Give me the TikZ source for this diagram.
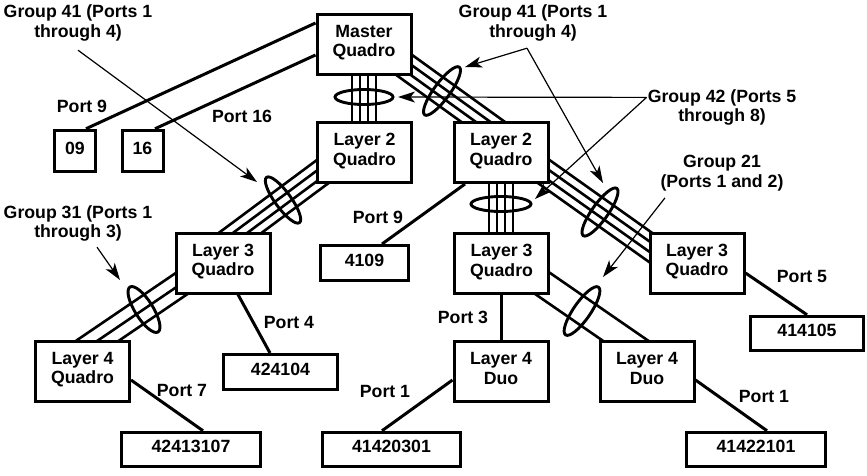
\documentclass[tikz,border=0pt]{standalone}
\usepackage{fontspec}
\setmainfont{Liberation Sans}
\usetikzlibrary{calc,arrows.meta,backgrounds}
\newcommand\lowpad{\rule[-6pt]{0pt}{6pt}}
\begin{document}
\begin{tikzpicture}[x=1pt,y=-1pt,
  every node/.style={font=\bfseries\fontsize{17.7pt}{19.6pt}\selectfont, inner sep=0pt},
  box/.style={draw, line width=3pt, fill=white, align=center, minimum width=94pt, minimum height=60pt},
  leaf/.style={draw, line width=3pt, fill=white, minimum height=35pt},
  lbl/.style={align=center},
  link/.style={line width=3pt},
  bundle/.style={line width=2.6pt},
  ring/.style={line width=2.9pt},
  pointer/.style={line width=1.2pt, -{Stealth[length=17pt,width=11pt,inset=4.5pt]}},
]
\useasboundingbox (0,0) rectangle (867,475);

% boxes
\node[box] (m) at (364,44) {Master\\Quadro\lowpad};
\node[box] (l2l) at (364.5,152.5) {Layer 2\\Quadro\lowpad};
\node[box] (l2r) at (501,152.5) {Layer 2\\Quadro\lowpad};
\node[box] (l3l) at (223,263) {Layer 3\\Quadro\lowpad};
\node[box] (l3m) at (501.5,263.5) {Layer 3\\Quadro\lowpad};
\node[box] (l3r) at (697,263) {Layer 3\\Quadro\lowpad};
\node[box] (l4q) at (82.5,371) {Layer 4\\Quadro\lowpad};
\node[box] (l4d1) at (501,371.5) {Layer 4\\Duo\lowpad};
\node[box] (l4d2) at (647,371.5) {Layer 4\\Duo\lowpad};

\node[leaf, minimum width=41.5pt, minimum height=41.5pt] (b09) at (75,151) {09\lowpad};
\node[leaf, minimum width=41pt, minimum height=41.5pt] (b16) at (142.5,151) {16\lowpad};
\node[leaf, minimum width=88.5pt] (b4109) at (364.5,263) {4109\lowpad};
\node[leaf, minimum width=114.5pt] (b424104) at (280.5,372) {424104\lowpad};
\node[leaf, minimum width=139.5pt, minimum height=34.5pt] (b42413107) at (191,449.5) {42413107\lowpad};
\node[leaf, minimum width=138.5pt, minimum height=34.5pt] (b41420301) at (391.5,449.5) {41420301\lowpad};
\node[leaf, minimum width=139.5pt, minimum height=34.5pt] (b41422101) at (756,449.5) {41422101\lowpad};
\node[leaf, minimum width=113.5pt, minimum height=34.5pt] (b414105) at (807,333.5) {414105\lowpad};

% labels
\node[lbl] (t41a) at (78,23.1) {Group 41 (Ports 1\\through 4)};
\node[lbl] (t41b) at (533,23.1) {Group 41 (Ports 1\\through 4)};
\node[lbl] (t42) at (722,107.4) {Group 42 (Ports 5\\through 8)};
\node[lbl] (t21) at (722,173.3) {Group 21\\(Ports 1 and 2)};
\node[lbl] (t31) at (78,223.4) {Group 31 (Ports 1\\through 3)};

\node[anchor=base] (p9a) at (82,112) {Port 9};
\node[anchor=base] (p16) at (242,122) {Port 16};
\node[anchor=base] (p9b) at (378,223) {Port 9};
\node[anchor=base] (p3) at (463,323) {Port 3};
\node[anchor=base] (p4) at (289,328) {Port 4};
\node[anchor=base] (p5) at (802,282) {Port 5};
\node[anchor=base] (p7) at (182,396) {Port 7};
\node[anchor=base] (p1a) at (385,397) {Port 1};
\node[anchor=base] (p1b) at (764,402) {Port 1};

% connectors behind the boxes
\begin{pgfonlayer}{background}
\draw[link] ([xshift=11pt]b09.north) -- ([yshift=21pt]m.west);
\draw[link] ([xshift=12.5pt]b16.north) -- ([yshift=-11pt]m.west);
\draw[link] ([xshift=-36pt]l2r.south) -- ([xshift=17.5pt]b4109.north);
\draw[link] ([xshift=15pt]l3l.south) -- ([xshift=-10.5pt]b424104.north);
\draw[link] ([yshift=-10pt]l3r.east) -- (b414105.north);
\draw[link] ([yshift=-9pt]l4q.east) -- ([xshift=12pt]b42413107.north);
\draw[link] ([yshift=-8.5pt]l4d1.west) -- ([xshift=-9.5pt]b41420301.north);
\draw[link] ([yshift=-8.5pt]l4d2.east) -- ([xshift=11pt]b41422101.north);
\draw[link] (l3m.south) -- (l3m.south |- l4d1.north);

% vertical bundles
\foreach \o in {-12,-4,4,12} {
  \draw[bundle] ([xshift=\o pt]m.south) -- ([xshift=\o pt]m.south |- l2l.north);
  \draw[bundle] ([xshift=\o pt]l2r.south) -- ([xshift=\o pt]l2r.south |- l3m.north);
}
% diagonal bundles
\coordinate (b3p) at ([yshift=8pt]m.center);
\coordinate (b3q) at ([xshift=19pt,yshift=4pt]l2r.center);
\coordinate (b4p) at ([yshift=12pt]l2l.center);
\coordinate (b4q) at ([xshift=-18pt,yshift=4pt]l3l.center);
\coordinate (b5p) at ([yshift=7.6pt]l3l.center);
\coordinate (b5q) at ([xshift=-22.5pt,yshift=4.8pt]l4q.center);
\coordinate (b6p) at ([xshift=29pt,yshift=-9.3pt]l2r.center);
\coordinate (b6q) at ([xshift=-27pt,yshift=1.8pt]l3r.center);
\coordinate (b7p) at ([xshift=28.5pt,yshift=-11.3pt]l3m.center);
\coordinate (b7q) at ([xshift=13pt,yshift=7pt]l4d2.center);
\foreach \o in {-12.75,-4.25,4.25,12.75} {
  \draw[bundle] ($(b3p)!\o pt!90:(b3q)$) -- ($(b3q)!\o pt!-90:(b3p)$);
  \draw[bundle] ($(b4p)!\o pt!90:(b4q)$) -- ($(b4q)!\o pt!-90:(b4p)$);
  \draw[bundle] ($(b6p)!\o pt!90:(b6q)$) -- ($(b6q)!\o pt!-90:(b6p)$);
}
\foreach \o in {-12,0,12} {
  \draw[bundle] ($(b5p)!\o pt!90:(b5q)$) -- ($(b5q)!\o pt!-90:(b5p)$);
}
\foreach \o in {-12.9,12.9} {
  \draw[bundle] ($(b7p)!\o pt!90:(b7q)$) -- ($(b7q)!\o pt!-90:(b7p)$);
}
\end{pgfonlayer}

% rings
\draw[ring] (364,97) ellipse [x radius=29pt, y radius=7.5pt];
\draw[ring] (501,204) ellipse [x radius=30pt, y radius=7.5pt];
\draw[ring, rotate around={54:(442,91)}] (442,91) ellipse [x radius=29.5pt, y radius=8pt];
\draw[ring, rotate around={126:(283,200)}] (283,200) ellipse [x radius=28pt, y radius=8pt];
\draw[ring, rotate around={122:(144,309.5)}] (144,309.5) ellipse [x radius=26.5pt, y radius=9pt];
\draw[ring, rotate around={54.6:(600,212)}] (600,212) ellipse [x radius=29pt, y radius=8pt];
\draw[ring, rotate around={55.4:(582,311)}] (582,311) ellipse [x radius=29pt, y radius=8.5pt];

% pointers
\coordinate (a1) at (257,182);
\coordinate (a2) at (465,67);
\coordinate (a3) at (603,183);
\coordinate (a4) at (398,97);
\coordinate (a5) at (535,199);
\coordinate (a6) at (603,277);
\coordinate (a7) at (120,280);
\coordinate (x41) at ([xshift=-6pt,yshift=-6.8pt]t41b.south);
\coordinate (x42) at ([xshift=-1pt,yshift=10pt]t42.west);

\draw[pointer] ([yshift=-8.8pt]t41a.south) -- (a1);
\draw[pointer] (x41) -- (a2);
\draw[pointer] (x41) -- (a3);
\draw[pointer] (x42) -- (a4);
\draw[pointer] (x42) -- (a5);
\draw[pointer] ([xshift=-57pt,yshift=-6.5pt]t21.south) -- (a6);
\draw[pointer] ([xshift=19pt,yshift=-5.5pt]t31.south) -- (a7);
\end{tikzpicture}
\end{document}
